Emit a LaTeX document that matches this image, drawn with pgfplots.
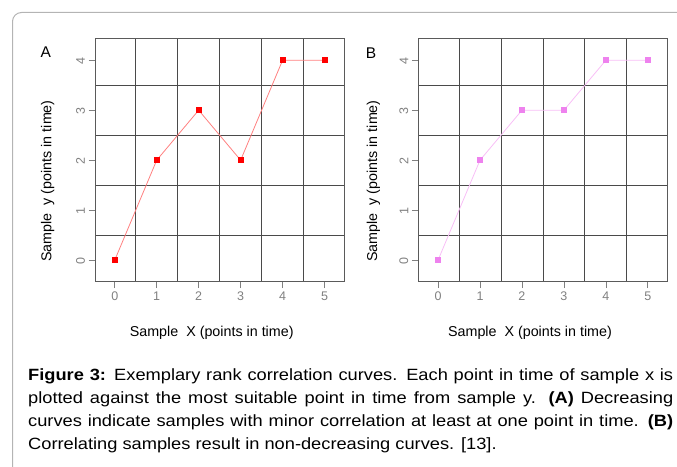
\documentclass[border=0pt]{standalone}
\usepackage{pgfplots}
\pgfplotsset{compat=1.18}
\usepackage{fontspec}
\setmainfont{Liberation Sans}
\newfontfamily\capfont{Liberation Sans}[FakeStretch=1.12]
\definecolor{frame}{HTML}{B4B4B4}
\definecolor{boxc}{HTML}{5A5A5A}
\definecolor{gridc}{HTML}{4A4A4A}
\definecolor{tickc}{HTML}{808080}
\definecolor{lineA}{HTML}{FF8080}
\definecolor{markA}{HTML}{FF0000}
\definecolor{lineB}{HTML}{F8BEF6}
\definecolor{markB}{HTML}{EE82EE}
\pgfplotsset{
  rcplot/.style={
    scale only axis, width=249.3pt, height=243pt,
    xmin=-0.47, xmax=5.47, ymin=-0.43, ymax=4.43,
    xtick={0,...,5}, ytick={0,...,4},
    minor xtick={0.5,1.5,...,4.5}, minor ytick={0.5,1.5,2.5,3.5},
    xminorgrids, yminorgrids, major grid style={draw=none},
    minor grid style={gridc, line width=0.9pt},
    minor tick length=0pt,
    tick align=outside, tick pos=left, major tick length=6.5pt,
    major tick style={tickc, line width=0.8pt},
    axis line style={boxc, line width=0.9pt},
    /pgf/number format/assume math mode=true,
    ticklabel style={font=\fontsize{12.5}{14}\selectfont, text=tickc},
    xticklabel style={yshift=0pt},
    yticklabel style={rotate=90, anchor=south, xshift=-1pt},
  }
}
\begin{document}
\begin{tikzpicture}[x=1pt,y=1pt]
\useasboundingbox (0,0) rectangle (677,466);
% frame
\draw[frame, line width=1pt, rounded corners=9pt] (12.5,-5) -- (12.5,453.5) -- (690,453.5);
% Panel A
\begin{axis}[rcplot, at={(95pt,184.3pt)}, anchor=south west]
\addplot[lineA, line width=0.8pt, mark=square*, mark size=2.6pt, mark options={markA, draw=markA, fill=markA}]
  coordinates {(0,0) (1,2) (2,3) (3,2) (4,4) (5,4)};
\end{axis}
% Panel B
\begin{axis}[rcplot, at={(418.3pt,184.3pt)}, anchor=south west]
\addplot[lineB, line width=0.8pt, mark=square*, mark size=2.6pt, mark options={markB, draw=markB, fill=markB}]
  coordinates {(0,0) (1,2) (2,3) (3,3) (4,4) (5,4)};
\end{axis}
% panel letters
\node[font=\fontsize{15.5}{17}\selectfont] at (45.7,413.5) {A};
\node[font=\fontsize{15.5}{17}\selectfont] at (371,413) {B};
% axis labels
\node[font=\fontsize{14.3}{16}\selectfont, rotate=90] at (47.7,285) {Sample\ \ y (points in time)};
\node[font=\fontsize{14.3}{16}\selectfont, rotate=90] at (373.3,285) {Sample\ \ y (points in time)};
\node[font=\fontsize{14.3}{16}\selectfont] at (211.7,133) {Sample\ \ X (points in time)};
\node[font=\fontsize{14.3}{16}\selectfont] at (530,133) {Sample\ \ X (points in time)};
% caption
\begin{scope}[every node/.style={anchor=base west, inner sep=0pt, font=\capfont\fontsize{16.3}{20}\selectfont}]
\node at (28,86) {\makebox[645pt][s]{\textbf{Figure 3:} Exemplary rank correlation curves. Each point in time of sample x is}};
\node at (28,63) {\makebox[645pt][s]{plotted against the most suitable point in time from sample y. \textbf{(A)} Decreasing}};
\node at (28,39.7) {\makebox[645pt][s]{curves indicate samples with minor correlation at least at one point in time. \textbf{(B)}}};
\node at (28,16.5) {Correlating samples result in non-decreasing curves. [13].};
\end{scope}
\end{tikzpicture}
\end{document}
